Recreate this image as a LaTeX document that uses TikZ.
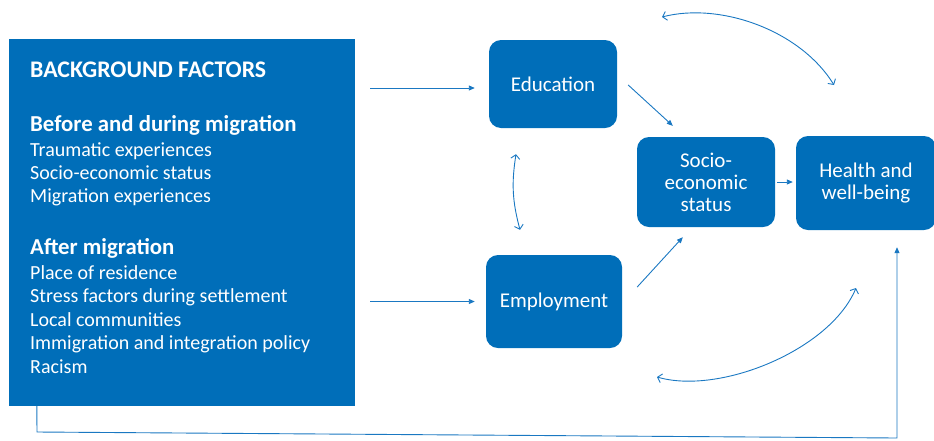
\documentclass[tikz,border=0pt]{standalone}
\usepackage{fontspec}
\setmainfont{Carlito}
\usetikzlibrary{arrows.meta}
\definecolor{boxblue}{HTML}{006EB9}
\definecolor{lineblue}{HTML}{1A78C2}
\begin{document}
\begin{tikzpicture}[x=1pt,y=-1pt,
  box/.style={draw=none, fill=boxblue, rounded corners=12pt, text=white, inner sep=0pt,
    font=\fontsize{21}{22}\selectfont, align=center},
  conn/.style={draw=lineblue, line width=0.9pt, -{Triangle[length=6pt,width=5pt]}},
  twoway/.style={draw=lineblue, line width=0.9pt,
    {Straight Barb[length=4pt,width=9pt]}-{Straight Barb[length=4pt,width=9pt]}},
  bgtext/.style={anchor=base west, text=white, inner sep=0pt, font=\fontsize{20}{24}\selectfont},
  bghead/.style={anchor=base west, text=white, inner sep=0pt, font=\bfseries\fontsize{22.8}{24}\selectfont}]
\useasboundingbox (0,0) rectangle (934,440);

% background factors box
\node[fill=boxblue, minimum width=346pt, minimum height=367pt, inner sep=0pt] (bg) at (182,222.5) {};
\node[bghead, font=\bfseries\fontsize{23.8}{24}\selectfont] (t0) at (30,77) {BACKGROUND FACTORS};
\node[bghead] (t1) at (30,131) {Before and during migration};
\node[bgtext] (t2) at (30,156) {Traumatic experiences};
\node[bgtext] (t3) at (30,179) {Socio-economic status};
\node[bgtext] (t4) at (30,202) {Migration experiences};
\node[bghead] (t5) at (30,254) {After migration};
\node[bgtext] (t6) at (30,279) {Place of residence};
\node[bgtext] (t7) at (30,302) {Stress factors during settlement};
\node[bgtext] (t8) at (30,326) {Local communities};
\node[bgtext] (t9) at (30,349) {Immigration and integration policy};
\node[bgtext] (t10) at (30,373) {Racism};

% outcome boxes
\node[box, minimum width=128pt, minimum height=88pt] (edu) at (553,84) {Education};
\node[box, minimum width=136pt, minimum height=93pt] (emp) at (554,301.5) {Employment};
\node[box, minimum width=138pt, minimum height=90pt] (ses) at (706,182) {Socio-\\economic\\status};
\node[box, minimum width=140pt, minimum height=94pt] (hea) at (866,183) {Health and\\well-being};

% straight connectors
\draw[conn] ([shift={(15,4)}]bg.east |- edu.west) -- ([shift={(-14,4)}]edu.west);
\draw[conn] ([shift={(15,0)}]bg.east |- emp.west) -- ([shift={(-11,0)}]emp.west);
\draw[conn] ([shift={(11,1)}]edu.east) -- ([shift={(36,-11)}]ses.north west);
\draw[conn] ([shift={(15,-14.5)}]emp.east) -- ([shift={(46,10)}]ses.south west);
\draw[conn] ([shift={(2,0)}]ses.east) -- ([shift={(-3,-1)}]hea.west);

% two-way curved connectors
\draw[twoway] ([shift={(-37,26)}]edu.south) to[bend right=12] ([shift={(-34,-25)}]emp.north);
\coordinate (ta) at (662,17);
\coordinate (tb) at (834,85);
\draw[twoway] (ta) .. controls (720,2) and (800,30) .. (tb);
\coordinate (ba) at (657,377);
\coordinate (bb) at (856,288);
\draw[twoway] (ba) .. controls (720,395) and (830,350) .. (bb);

% bottom feedback line
\coordinate (c1) at (37,432);
\coordinate (c2) at (897,438);
\draw[conn] ([shift={(28,0)}]bg.south west) -- (c1) -- (c2) -- ([shift={(31,17)}]hea.south);
\end{tikzpicture}
\end{document}
